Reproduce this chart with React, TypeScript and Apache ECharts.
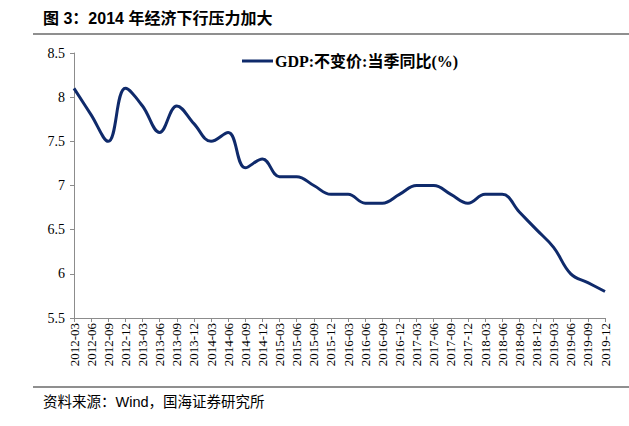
import React, { useEffect, useRef } from "react";
import * as echarts from "echarts";

const categories = [
  "2012-03", "2012-06", "2012-09", "2012-12",
  "2013-03", "2013-06", "2013-09", "2013-12",
  "2014-03", "2014-06", "2014-09", "2014-12",
  "2015-03", "2015-06", "2015-09", "2015-12",
  "2016-03", "2016-06", "2016-09", "2016-12",
  "2017-03", "2017-06", "2017-09", "2017-12",
  "2018-03", "2018-06", "2018-09", "2018-12",
  "2019-03", "2019-06", "2019-09", "2019-12",
];

const gdpValues = [
  8.1, 7.8, 7.5, 8.1,
  7.9, 7.6, 7.9, 7.7,
  7.5, 7.6, 7.2, 7.3,
  7.1, 7.1, 7.0, 6.9,
  6.9, 6.8, 6.8, 6.9,
  7.0, 7.0, 6.9, 6.8,
  6.9, 6.9, 6.7, 6.5,
  6.3, 6.0, 5.9, 5.8,
];

const seriesName = "GDP:不变价:当季同比(%)";
const titleText = "图 3：2014 年经济下行压力加大";
const sourceText = "资料来源：Wind，国海证券研究所";

const serif = '"Liberation Serif", "Times New Roman", "Noto Sans CJK SC", serif';
const sans = '"Liberation Sans", Arial, "Noto Sans CJK SC", sans-serif';

export default function App() {
  const ref = useRef<HTMLDivElement>(null);

  useEffect(() => {
    document.body.style.margin = "0";
    if (!ref.current) return;
    const chart = echarts.init(ref.current, null, { renderer: "svg" });
    chart.setOption({
      animation: false,
      backgroundColor: "#ffffff",
      grid: { left: 74, right: 24, top: 53, bottom: 108 },
      legend: {
        data: [{ name: seriesName, icon: "rect" }],
        left: 237,
        top: 48,
        itemWidth: 31,
        itemHeight: 3,
        itemGap: 4,
        textStyle: {
          fontFamily: serif,
          fontWeight: "bold",
          fontSize: 16,
          color: "#000",
          padding: [0, 0, 0, -3],
        },
      },
      xAxis: {
        type: "category",
        data: categories,
        boundaryGap: false,
        axisLine: { lineStyle: { color: "#8c8c8c", width: 1 } },
        axisTick: { show: true, length: 4, lineStyle: { color: "#8c8c8c" } },
        axisLabel: {
          interval: 0,
          rotate: 90,
          fontFamily: serif,
          fontSize: 13,
          color: "#000",
          margin: 5,
        },
      },
      yAxis: {
        type: "value",
        min: 5.5,
        max: 8.5,
        interval: 0.5,
        splitLine: { show: false },
        axisLine: { show: true, lineStyle: { color: "#8c8c8c", width: 1 } },
        axisTick: { show: true, length: 4, lineStyle: { color: "#8c8c8c" } },
        axisLabel: {
          fontFamily: serif,
          fontSize: 14,
          color: "#000",
          margin: 9,
        },
      },
      series: [
        {
          name: seriesName,
          type: "line",
          data: gdpValues,
          smooth: 0.4,
          symbol: "none",
          lineStyle: { color: "#0f2a6b", width: 3 },
          itemStyle: { color: "#0f2a6b" },
        },
      ],
      graphic: [
        {
          type: "text",
          left: 43,
          top: 10,
          style: {
            text: titleText,
            font: `bold 16px ${sans}`,
            fill: "#000",
          },
        },
        {
          type: "line",
          shape: { x1: 33, y1: 34, x2: 629, y2: 34 },
          style: { stroke: "#8f8f8f", lineWidth: 2 },
        },
        {
          type: "line",
          shape: { x1: 33, y1: 387, x2: 629, y2: 387 },
          style: { stroke: "#8f8f8f", lineWidth: 2 },
        },
        {
          type: "text",
          left: 43,
          top: 395,
          style: {
            text: sourceText,
            font: `14.5px ${sans}`,
            fill: "#000",
          },
        },
      ],
    });
    return () => chart.dispose();
  }, []);

  return <div ref={ref} style={{ width: 629, height: 426 }} />;
}
